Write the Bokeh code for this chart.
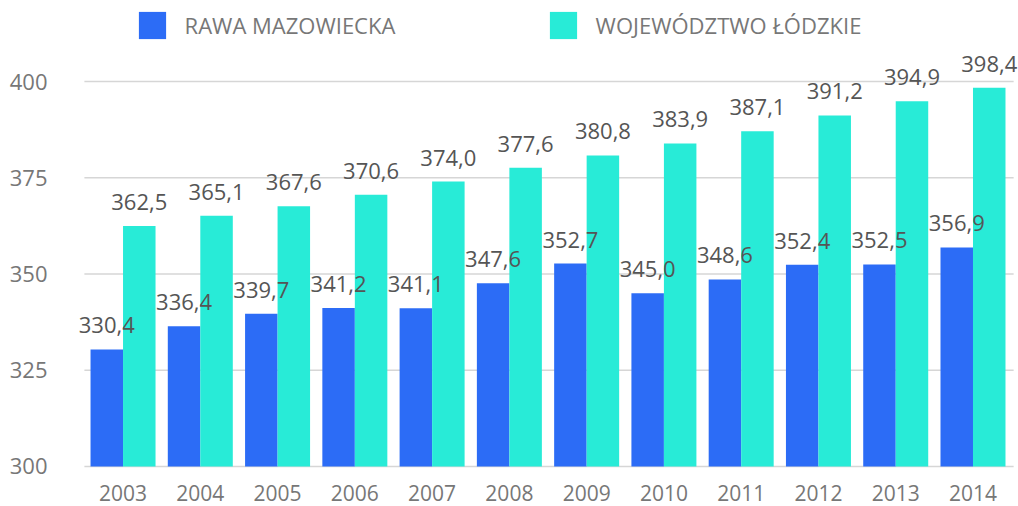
from bokeh.plotting import figure
from bokeh.models import ColumnDataSource, Legend, LegendItem, FixedTicker, Range1d
from bokeh.transform import dodge
from bokeh.core.properties import value
from bokeh.embed import file_html
from bokeh.resources import INLINE

years = ["2003", "2004", "2005", "2006", "2007", "2008", "2009", "2010", "2011", "2012", "2013", "2014"]
rawa = [330.4, 336.4, 339.7, 341.2, 341.1, 347.6, 352.7, 345.0, 348.6, 352.4, 352.5, 356.9]
lodzkie = [362.5, 365.1, 367.6, 370.6, 374.0, 377.6, 380.8, 383.9, 387.1, 391.2, 394.9, 398.4]
series_names = ["RAWA MAZOWIECKA", "WOJEWÓDZTWO ŁÓDZKIE"]
y_ticks = [300, 325, 350, 375, 400]
baseline = 300

BLUE = "#2c6cf6"
CYAN = "#28ebd7"
FONT = "Open Sans"

def fmt(v):
    return f"{v:.1f}".replace(".", ",")

n = len(years)
xi = list(range(n))
src = ColumnDataSource(dict(
    xi=xi,
    year=years,
    base=[baseline] * n,
    rawa=rawa,
    lodzkie=lodzkie,
    rawa_lbl=[fmt(v) for v in rawa],
    lodzkie_lbl=[fmt(v) for v in lodzkie],
))

x_start, x_end = -0.8093, n - 0.5 + 0.089
p = figure(
    x_range=Range1d(x_start, x_end), y_range=Range1d(289.61, 421.04),
    width=1018, height=506,
    output_backend="svg", toolbar_location=None,
    min_border_left=60, min_border_right=0, min_border_top=0, min_border_bottom=0,
)
p.outline_line_color = None
p.background_fill_color = "white"
p.border_fill_color = "white"
p.xaxis.visible = False
p.xgrid.grid_line_color = None
p.ygrid.grid_line_color = None

# horizontal gridlines at the y ticks
gsrc = ColumnDataSource(dict(y=y_ticks, x0=[-0.5] * len(y_ticks), x1=[n - 0.5 + 0.026] * len(y_ticks)))
p.segment(x0="x0", x1="x1", y0="y", y1="y", source=gsrc, line_color="#d6d6d6", line_width=1.5)

off = 0.2103
bw = 0.4206
r1 = p.vbar(x=dodge("xi", -off), top="rawa", bottom=baseline, width=bw,
            source=src, fill_color=BLUE, line_color=None)
r2 = p.vbar(x=dodge("xi", off), top="lodzkie", bottom=baseline, width=bw,
            source=src, fill_color=CYAN, line_color=None)

for col, lbl, o in [("rawa", "rawa_lbl", -off), ("lodzkie", "lodzkie_lbl", off)]:
    p.text(x=dodge("xi", o), y=col, text=lbl, source=src,
           text_align="center", text_baseline="alphabetic", y_offset=-24,
           text_font=value(FONT), text_font_size="22px", text_color="#555555")

# category (year) labels under the bars
p.text(x="xi", y="base", text="year", source=src,
       text_align="center", text_baseline="alphabetic", y_offset=27,
       text_font=value(FONT), text_font_size="21px", text_color="#777777")

# y axis
p.yaxis.ticker = FixedTicker(ticks=y_ticks)
ax = p.yaxis[0]
ax.axis_line_color = None
ax.major_tick_line_color = None
ax.minor_tick_line_color = None
ax.major_label_text_font = FONT
ax.major_label_text_font_size = "22px"
ax.major_label_text_color = "#777777"
ax.major_label_standoff = 7

# legends
for r, name, x in [(r1, series_names[0], 74.6), (r2, series_names[1], 485.6)]:
    lg = Legend(items=[LegendItem(label=name, renderers=[r])],
                location=(x, 463.6), orientation="horizontal",
                glyph_width=34, glyph_height=34, label_standoff=16,
                label_text_font=FONT, label_text_font_size="22px",
                label_text_color="#777777", padding=0, margin=0,
                border_line_color=None, background_fill_alpha=0)
    p.add_layout(lg, "center")

open("out.html", "w").write(file_html(p, INLINE))
